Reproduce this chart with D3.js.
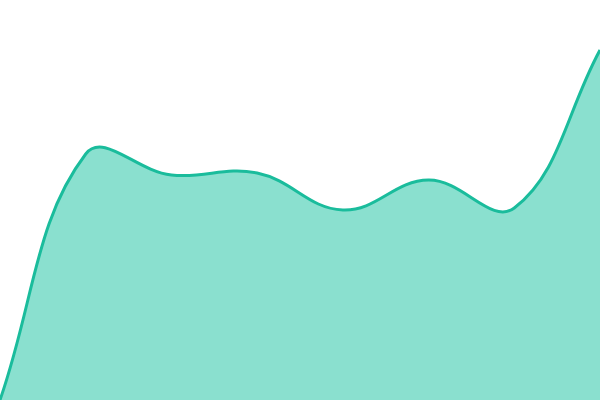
<!DOCTYPE html>
<html>
<head>
<meta charset="utf-8">
<script src="https://cdn.jsdelivr.net/npm/d3@7"></script>
<style>
  html, body { margin: 0; padding: 0; background: #fff; }
  svg { display: block; }
</style>
</head>
<body>
<svg id="chart" width="600" height="400"></svg>
<script>
const categories = [0, 1, 2, 3, 4, 5, 6, 7];
const values = [0, 61.5, 56.25, 56.75, 47.5, 55, 48, 87.5];

const width = 600, height = 400;
const svg = d3.select("#chart");

const x = d3.scaleLinear().domain(d3.extent(categories)).range([0, width]);
const y = d3.scaleLinear().domain([0, 100]).range([height, 0]);

const data = categories.map((c, i) => ({ c, v: values[i] }));

// Tension spline curve (distance-weighted control points), as a D3 curve factory
function SplineCurve(context, tension) {
  this._context = context;
  this._t = tension;
}
SplineCurve.prototype = {
  areaStart() { this._line = 0; },
  areaEnd() { this._line = NaN; },
  lineStart() { this._pts = []; },
  point(px, py) { this._pts.push([+px, +py]); },
  lineEnd() {
    const p = this._pts, n = p.length, ctx = this._context, t = this._t;
    if (n) {
      if (this._line) ctx.lineTo(p[0][0], p[0][1]); else ctx.moveTo(p[0][0], p[0][1]);
      const cp = p.map((cur, i) => {
        const prev = p[Math.max(i - 1, 0)], next = p[Math.min(i + 1, n - 1)];
        const d01 = Math.hypot(cur[0] - prev[0], cur[1] - prev[1]);
        const d12 = Math.hypot(next[0] - cur[0], next[1] - cur[1]);
        let s01 = d01 / (d01 + d12), s12 = d12 / (d01 + d12);
        if (isNaN(s01)) s01 = 0;
        if (isNaN(s12)) s12 = 0;
        const fa = t * s01, fb = t * s12;
        return {
          prev: [cur[0] - fa * (next[0] - prev[0]), cur[1] - fa * (next[1] - prev[1])],
          next: [cur[0] + fb * (next[0] - prev[0]), cur[1] + fb * (next[1] - prev[1])]
        };
      });
      for (let i = 1; i < n; i++) {
        const a = cp[i - 1].next, b = cp[i].prev;
        ctx.bezierCurveTo(a[0], a[1], b[0], b[1], p[i][0], p[i][1]);
      }
    }
    if (this._line || (this._line !== 0 && n === 1)) ctx.closePath();
    this._line = 1 - this._line;
  }
};
const curve = ctx => new SplineCurve(ctx, 0.4);

const area = d3.area()
  .x(d => x(d.c))
  .y0(y(0))
  .y1(d => y(d.v))
  .curve(curve);

const line = d3.line()
  .x(d => x(d.c))
  .y(d => y(d.v))
  .curve(curve);

svg.append("path")
  .datum(data)
  .attr("d", area)
  .attr("fill", "#8ae0cf");

svg.append("path")
  .datum(data)
  .attr("d", line)
  .attr("fill", "none")
  .attr("stroke", "#1abc9c")
  .attr("stroke-width", 3);
</script>
</body>
</html>
